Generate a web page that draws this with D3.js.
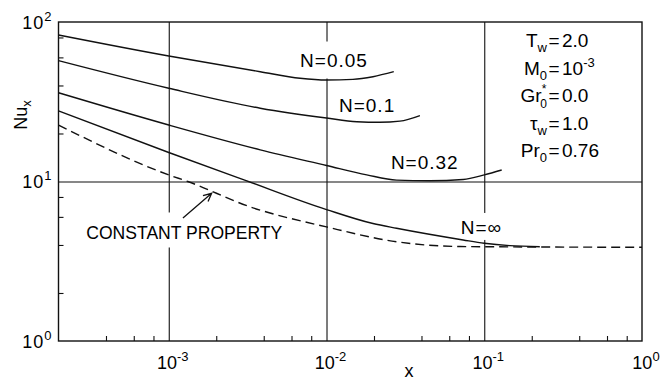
<!DOCTYPE html>
<html>
<head>
<meta charset="utf-8">
<script src="https://cdn.jsdelivr.net/npm/d3@7"></script>
<style>
  html, body { margin: 0; padding: 0; background: #fff; }
  svg { display: block; font-family: "Liberation Sans", Arial, sans-serif; }
</style>
</head>
<body>
<svg id="chart" width="662" height="380"></svg>
<script>
// Local Nusselt number vs axial coordinate for several property parameters N
const xN005 = [2e-4, 1e-3, 3.8e-3, 6.8e-3, 1e-2, 1.47e-2, 1.97e-2, 2.67e-2];
const nuN005 = [82.9, 61.2, 48.8, 44.4, 43.3, 43.7, 45.4, 48.8];

const xN01 = [2e-4, 1e-3, 3.8e-3, 1e-2, 1.56e-2, 2.18e-2, 2.92e-2, 3.91e-2];
const nuN01 = [57.2, 38.4, 28.8, 25.0, 23.7, 23.5, 23.9, 25.9];

const xN032 = [2e-4, 1e-3, 3.8e-3, 1e-2, 1.8e-2, 2.78e-2, 4.52e-2, 7.35e-2, 1e-1, 1.29e-1];
const nuN032 = [36.0, 22.6, 15.8, 12.6, 11.0, 10.2, 10.1, 10.3, 11.0, 11.8];

const xNinf = [2e-4, 1e-3, 3.03e-3, 1e-2, 1.97e-2, 2.78e-2, 7.35e-2, 1e-1, 1.45e-1, 2.25e-1];
const nuNinf = [27.7, 15.2, 10.2, 6.67, 5.45, 5.09, 4.30, 4.10, 3.96, 3.90];

const xConst = [2e-4, 1e-3, 1.32e-3, 3.26e-3, 1e-2, 2.78e-2, 7.0e-2, 1e-1, 1];
const nuConst = [22.6, 11.0, 10.0, 6.95, 5.19, 4.19, 3.91, 3.90, 3.87];

// Curve labels: text, anchor point (x, Nu at baseline)
const curveLabels = ["N=0.05", "N=0.1", "N=0.32", "N=\u221E", "CONSTANT PROPERTY"];
const labelX = [6.8e-3, 1.2e-2, 2.56e-2, 7.1e-2, 3.0e-4];
const labelNu = [52.6, 27.3, 11.9, 4.69, 4.33];

// Axis ticks
const xMajor = [1e-3, 1e-2, 1e-1, 1];
const xExp = ["-3", "-2", "-1", "0"];
const yMajor = [1, 10, 100];
const yExp = ["0", "1", "2"];
const xGrid = [1e-3, 1e-2, 1e-1];
const yGrid = [10];
const minorMult = [2, 4, 6, 8];

// Parameter block
const paramSym = ["T", "M", "Gr", "\u03C4", "Pr"];
const paramSup = ["", "", "*", "", ""];
const paramSub = ["w", "0", "0", "w", "0"];
const paramVal = ["2.0", "10", "0.0", "1.0", "0.76"];
const paramValExp = ["", "-3", "", "", ""];

// Arrow for the constant property label (tail, tip)
const arrowX = [1.23e-3, 1.87e-3];
const arrowNu = [5.9, 8.43];

const svg = d3.select("#chart");
const pL = 58.5, pR = 642, pT = 22, pB = 341;
const x = d3.scaleLog().domain([2e-4, 1]).range([pL, pR]);
const y = d3.scaleLog().domain([1, 100]).range([pB, pT]);
const FS = 18;

const gGrid = svg.append("g");
const gKnock = svg.append("g");
const gCurves = svg.append("g");
const gAxes = svg.append("g");
const gText = svg.append("g").attr("font-size", FS).attr("fill", "#000");

// Grid lines through the decades
gGrid.append("g")
  .attr("transform", `translate(0,${pB})`)
  .call(d3.axisBottom(x).tickValues(xGrid).tickSize(-(pB - pT)).tickFormat(""))
  .call(g => g.select(".domain").remove())
  .call(g => g.selectAll("line").attr("stroke", "#111").attr("stroke-width", 1.1));
gGrid.append("g")
  .attr("transform", `translate(${pL},0)`)
  .call(d3.axisLeft(y).tickValues(yGrid).tickSize(-(pR - pL)).tickFormat(""))
  .call(g => g.select(".domain").remove())
  .call(g => g.selectAll("line").attr("stroke", "#111").attr("stroke-width", 1.1));

// Minor ticks
const xMinor = [];
[-4, -3, -2, -1].forEach(e => minorMult.forEach(m => {
  const v = m * Math.pow(10, e);
  if (v > 2e-4 && v < 1) xMinor.push(v);
}));
const yMinor = [];
[0, 1].forEach(e => minorMult.forEach(m => yMinor.push(m * Math.pow(10, e))));

gAxes.append("g")
  .attr("transform", `translate(0,${pB})`)
  .call(d3.axisBottom(x).tickValues(xMinor).tickSize(-5).tickFormat(""))
  .call(g => g.select(".domain").remove())
  .call(g => g.selectAll("line").attr("stroke", "#111").attr("stroke-width", 1.1));
gAxes.append("g")
  .attr("transform", `translate(${pL},0)`)
  .call(d3.axisLeft(y).tickValues(yMinor).tickSize(-5).tickFormat(""))
  .call(g => g.select(".domain").remove())
  .call(g => g.selectAll("line").attr("stroke", "#111").attr("stroke-width", 1.1));

// Frame
gAxes.append("rect")
  .attr("x", pL).attr("y", pT)
  .attr("width", pR - pL).attr("height", pB - pT)
  .attr("fill", "none").attr("stroke", "#111").attr("stroke-width", 1.4);

// Power-of-ten labels
function powText(t, exp) {
  t.append("tspan").text("10");
  t.append("tspan").attr("dy", -8).attr("font-size", 13).text(exp);
}
xMajor.forEach((v, i) => {
  const t = gText.append("text")
    .attr("x", x(v) + 4).attr("y", pB + 28)
    .attr("text-anchor", "middle");
  powText(t, xExp[i]);
});
yMajor.forEach((v, i) => {
  const t = gText.append("text")
    .attr("x", pL - 6).attr("y", y(v) + 6.5)
    .attr("text-anchor", "end").attr("letter-spacing", 1);
  powText(t, yExp[i]);
});

// Axis titles
gText.append("text")
  .attr("x", 409).attr("y", 377)
  .attr("text-anchor", "middle").text("x");
const yt = gText.append("text")
  .attr("transform", `translate(27,115) rotate(-90)`)
  .attr("text-anchor", "middle");
yt.append("tspan").text("Nu");
yt.append("tspan").attr("dy", 4).attr("font-size", 13).text("x");

// Curves
const line = d3.line().x(d => x(d[0])).y(d => y(d[1])).curve(d3.curveMonotoneX);
const series = [
  [xN005, nuN005, null],
  [xN01, nuN01, null],
  [xN032, nuN032, null],
  [xNinf, nuNinf, null],
  [xConst, nuConst, "9,5"]
];
series.forEach(([xs, ys, dash]) => {
  gCurves.append("path")
    .datum(xs.map((v, i) => [v, ys[i]]))
    .attr("d", line)
    .attr("fill", "none")
    .attr("stroke", "#111")
    .attr("stroke-width", 1.4)
    .attr("stroke-dasharray", dash);
});

// Curve labels with white knockouts behind them (hide grid lines only)
const knockPad = [[4, 8, 8], [3, 3, 3], [3, 3, 2], [3, 4, 2], [3, 10, 4]];
curveLabels.forEach((s, i) => {
  const t = gText.append("text")
    .attr("x", x(labelX[i])).attr("y", y(labelNu[i]))
    .attr("font-size", 19)
    .attr("letter-spacing", i === 4 ? 0 : 1)
    .text(s);
  if (i === 4) t.attr("textLength", 196).attr("lengthAdjust", "spacingAndGlyphs");
  const b = t.node().getBBox();
  const [px, pt, pb] = knockPad[i];
  gKnock.append("rect")
    .attr("x", b.x - px).attr("y", b.y - pt)
    .attr("width", b.width + 2 * px).attr("height", b.height + pt + pb)
    .attr("fill", "#fff");
});

// Arrow pointing at the dashed curve
const ax0 = x(arrowX[0]), ay0 = y(arrowNu[0]);
const ax1 = x(arrowX[1]), ay1 = y(arrowNu[1]);
const ang = Math.atan2(ay1 - ay0, ax1 - ax0);
const hl = 9, ha = 0.45;
gText.append("path")
  .attr("d", `M${ax0},${ay0}L${ax1},${ay1}` +
    `M${ax1 - hl * Math.cos(ang - ha)},${ay1 - hl * Math.sin(ang - ha)}L${ax1},${ay1}` +
    `L${ax1 - hl * Math.cos(ang + ha)},${ay1 - hl * Math.sin(ang + ha)}`)
  .attr("fill", "none").attr("stroke", "#111").attr("stroke-width", 1.3);

// Parameter block
const pNameEnd = 547, pEq = 554, pVal = 562, pY0 = 47, pStep = 27.5;
paramSym.forEach((s, i) => {
  const yy = pY0 + i * pStep;
  const n = gText.append("text").attr("x", pNameEnd).attr("y", yy)
    .attr("text-anchor", "end").attr("font-size", 19);
  n.append("tspan").text(s);
  if (paramSup[i]) {
    n.append("tspan").attr("dy", -9).attr("font-size", 12).text(paramSup[i]);
    n.append("tspan").attr("dx", -6).attr("dy", 15).attr("font-size", 12).text(paramSub[i]);
  } else {
    n.append("tspan").attr("dy", 5).attr("font-size", 13).text(paramSub[i]);
  }
  gText.append("text").attr("x", pEq).attr("y", yy)
    .attr("text-anchor", "middle").attr("font-size", 19).text("=");
  const v = gText.append("text").attr("x", pVal).attr("y", yy).attr("font-size", 19);
  v.append("tspan").text(paramVal[i]);
  if (paramValExp[i]) v.append("tspan").attr("dy", -8).attr("font-size", 13).text(paramValExp[i]);
});
</script>
</body>
</html>
